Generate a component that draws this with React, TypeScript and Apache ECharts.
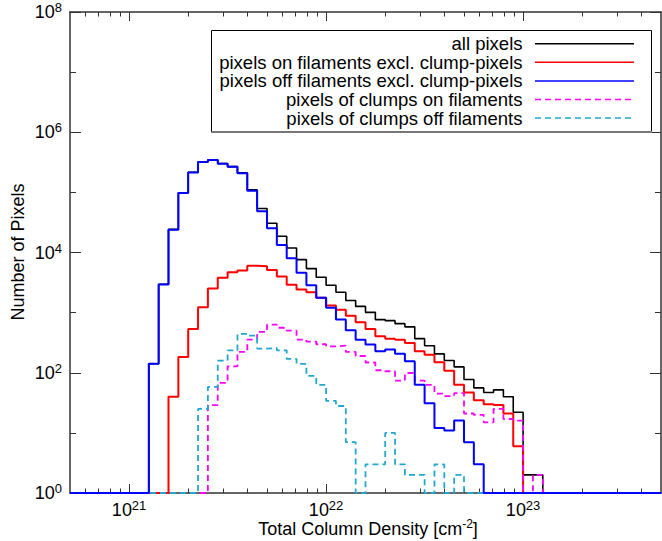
import React, { useEffect, useRef } from 'react';
import * as echarts from 'echarts';

// Histogram bins: log10(N) from binLogStart in steps of binLogWidth
const binLogStart = 21.1;
const binLogWidth = 0.05;
const xLogMin = 20.7;
const xLogMax = 23.7;

const seriesNames = [
  'all pixels',
  'pixels on filaments excl. clump-pixels',
  'pixels off filaments excl. clump-pixels',
  'pixels of clumps on filaments',
  'pixels of clumps off filaments',
];

const allPixels = [141, 2960, 24200, 98300, 216000, 322000, 348000, 302000, 268000, 212000,
  110000, 54000, 30600, 18600, 11900, 7600, 5400, 3870, 2850, 2180,
  1590, 1270, 1010, 765, 735, 656, 580, 369, 282, 206,
  160, 125, 77, 56, 47, 52, 40, 22, 2, 2];

const onFilaments = [0, 0, 40, 183, 535, 1230, 2510, 3800, 4700, 5000,
  6000, 5900, 5100, 4000, 2920, 2420, 2180, 1760, 1320, 1120,
  890, 690, 535, 403, 369, 355, 313, 227, 200, 149,
  108, 63, 47, 35, 30, 29, 21, 6, 0, 0];

const offFilaments = [141, 2950, 24000, 98000, 215000, 321000, 347000, 300000, 266000, 208000,
  106000, 48500, 25300, 13300, 8000, 4600, 2850, 1760, 1200, 765,
  507, 355, 295, 227, 243, 208, 155, 63, 31, 12,
  11, 16, 7, 3, 0, 0, 0, 0, 0, 0];

const clumpsOn = [0, 0, 0, 0, 0, 0, 29, 68, 128, 222,
  355, 477, 630, 560, 500, 355, 330, 298, 275, 282,
  222, 190, 148, 110, 106, 74, 99, 74, 63, 45,
  41, 46, 21, 20, 15, 25, 17, 16, 0, 2];

const clumpsOff = [0, 0, 0, 0, 0, 25, 58, 159, 236, 443,
  414, 252, 258, 236, 170, 140, 89, 63, 34, 28,
  7, 0, 3, 3, 10, 3, 2, 2, 0, 3,
  0, 2, 0, 0, 0, 0, 0, 0, 0, 0];

const xMajorTicks = [1e21, 1e22, 1e23];
const xMinorTicks = [6e20, 7e20, 8e20, 9e20, 2e21, 3e21, 4e21, 5e21, 6e21, 7e21, 8e21, 9e21,
  2e22, 3e22, 4e22, 5e22, 6e22, 7e22, 8e22, 9e22, 2e23, 3e23, 4e23];
const yMajorTicks = [1, 1e2, 1e4, 1e6, 1e8];
const yMinorTicks = [10, 1e3, 1e5, 1e7];

const FONT = '"Liberation Sans", Arial, Helvetica, sans-serif';
const AXIS_COLOR = '#333';

function buildSteps(counts: number[]): [number, number][] {
  const pts: [number, number][] = [[Math.pow(10, xLogMin), 1]];
  counts.forEach((c, k) => {
    pts.push([Math.pow(10, binLogStart + k * binLogWidth), Math.max(c, 1)]);
  });
  pts.push([Math.pow(10, binLogStart + counts.length * binLogWidth), 1]);
  pts.push([Math.pow(10, xLogMax), 1]);
  return pts;
}

const powLabel = (v: number) => `{b|10}{s|${Math.round(Math.log10(v))}}`;
const labelRich = {
  b: { fontSize: 18, fontFamily: FONT, color: '#000', lineHeight: 22 },
  s: { fontSize: 13, fontFamily: FONT, color: '#000', lineHeight: 12, verticalAlign: 'top' },
};

export default function App() {
  const ref = useRef<HTMLDivElement>(null);

  useEffect(() => {
    if (!ref.current) return;
    const chart = echarts.init(ref.current, undefined, { renderer: 'svg' });

    const xBase = {
      type: 'log',
      logBase: 10,
      min: Math.pow(10, xLogMin),
      max: Math.pow(10, xLogMax),
      splitLine: { show: false },
      axisLine: { show: false, onZero: false },
    };
    const yBase = {
      type: 'log',
      logBase: 10,
      min: 1,
      max: 1e8,
      splitLine: { show: false },
      axisLine: { show: false, onZero: false },
    };

    const xAxes = [
      {
        ...xBase, position: 'bottom',
        axisLine: { show: true, onZero: false, lineStyle: { color: AXIS_COLOR, width: 1.5 } },
        axisTick: { show: true, inside: true, length: 9, customValues: xMajorTicks, lineStyle: { color: AXIS_COLOR } },
        axisLabel: { show: true, margin: 6, customValues: xMajorTicks, formatter: powLabel, rich: labelRich },
      },
      {
        ...xBase, position: 'bottom',
        axisTick: { show: true, inside: true, length: 4.5, customValues: xMinorTicks, lineStyle: { color: AXIS_COLOR } },
        axisLabel: { show: false },
      },
      {
        ...xBase, position: 'top',
        axisLine: { show: true, onZero: false, lineStyle: { color: AXIS_COLOR, width: 1.5 } },
        axisTick: { show: true, inside: true, length: 9, customValues: xMajorTicks, lineStyle: { color: AXIS_COLOR } },
        axisLabel: { show: false },
      },
      {
        ...xBase, position: 'top',
        axisTick: { show: true, inside: true, length: 4.5, customValues: xMinorTicks, lineStyle: { color: AXIS_COLOR } },
        axisLabel: { show: false },
      },
    ];

    const yAxes = [
      {
        ...yBase, position: 'left',
        axisLine: { show: true, onZero: false, lineStyle: { color: AXIS_COLOR, width: 1.5 } },
        axisTick: { show: true, inside: true, length: 11, customValues: yMajorTicks, lineStyle: { color: AXIS_COLOR } },
        axisLabel: { show: true, margin: 8, customValues: yMajorTicks, formatter: powLabel, rich: labelRich },
      },
      {
        ...yBase, position: 'left',
        axisTick: { show: true, inside: true, length: 6, customValues: yMinorTicks, lineStyle: { color: AXIS_COLOR } },
        axisLabel: { show: false },
      },
      {
        ...yBase, position: 'right',
        axisLine: { show: true, onZero: false, lineStyle: { color: AXIS_COLOR, width: 1.5 } },
        axisTick: { show: true, inside: true, length: 11, customValues: yMajorTicks, lineStyle: { color: AXIS_COLOR } },
        axisLabel: { show: false },
      },
      {
        ...yBase, position: 'right',
        axisTick: { show: true, inside: true, length: 6, customValues: yMinorTicks, lineStyle: { color: AXIS_COLOR } },
        axisLabel: { show: false },
      },
    ];

    const styles = [
      { color: '#000000', width: 1.6, type: 'solid' },
      { color: '#ff0000', width: 2, type: 'solid' },
      { color: '#0000ff', width: 2, type: 'solid' },
      { color: '#ff00ff', width: 1.8, type: [6, 4] },
      { color: '#22a8d0', width: 1.8, type: [6, 4] },
    ];
    // drawing order: black, red, magenta, cyan, blue on top
    const zOrder = [2, 3, 6, 4, 5];
    const datasets = [allPixels, onFilaments, offFilaments, clumpsOn, clumpsOff];

    const series = datasets.map((d, i) => ({
      name: seriesNames[i],
      type: 'line',
      step: 'end',
      symbol: 'none',
      showSymbol: false,
      silent: true,
      xAxisIndex: 0,
      yAxisIndex: 0,
      lineStyle: styles[i],
      data: buildSteps(d),
      z: zOrder[i],
    }));

    // Legend (drawn manually to match the boxed, right-aligned layout)
    const legendTop = 43.7;
    const legendStep = 18.6;
    const legendEls: any[] = [
      {
        type: 'rect',
        shape: { x: 211.5, y: 30.5, width: 440, height: 101.5 },
        style: { fill: '#fff', stroke: '#000', lineWidth: 1 },
        z: 10,
      },
      {
        type: 'line',
        shape: { x1: 211.5, y1: 132, x2: 652, y2: 132 },
        style: { stroke: '#777', lineWidth: 2 },
        z: 11,
      },
    ];
    seriesNames.forEach((n, i) => {
      const y = legendTop + i * legendStep;
      legendEls.push({
        type: 'text',
        style: {
          text: n, x: 522.5, y, align: 'right', verticalAlign: 'middle',
          fontSize: 18.5, lineHeight: 18, fontFamily: FONT, fill: '#000',
        },
        z: 12,
      });
      legendEls.push({
        type: 'line',
        shape: { x1: 535, y1: y, x2: 634, y2: y },
        style: {
          stroke: styles[i].color, lineWidth: 1.5,
          lineDash: Array.isArray(styles[i].type) ? styles[i].type : null,
        },
        z: 12,
      });
    });

    const titleEls: any[] = [
      {
        type: 'text',
        x: 18, y: 252, rotation: Math.PI / 2,
        style: {
          text: 'Number of Pixels', x: 0, y: 0, align: 'center', verticalAlign: 'middle',
          fontSize: 18, fontFamily: FONT, fill: '#000',
        },
      },
      {
        type: 'text',
        style: {
          text: '{a|Total Column Density [cm}{s|-2}{a|]}',
          x: 368, y: 529, align: 'center', verticalAlign: 'middle',
          rich: {
            a: { fontSize: 18, fontFamily: FONT, fill: '#000', color: '#000', lineHeight: 22 },
            s: { fontSize: 12, fontFamily: FONT, fill: '#000', color: '#000', lineHeight: 12, verticalAlign: 'top' },
          },
        },
      },
    ];

    chart.setOption({
      animation: false,
      backgroundColor: '#fff',
      grid: { left: 70, top: 12, right: 1, bottom: 48, containLabel: false },
      xAxis: xAxes,
      yAxis: yAxes,
      series,
      graphic: [...legendEls, ...titleEls],
    } as any);

    return () => chart.dispose();
  }, []);

  return (
    <div
      ref={ref}
      style={{ position: 'fixed', left: 0, top: 0, width: 662, height: 541, background: '#fff' }}
    />
  );
}
